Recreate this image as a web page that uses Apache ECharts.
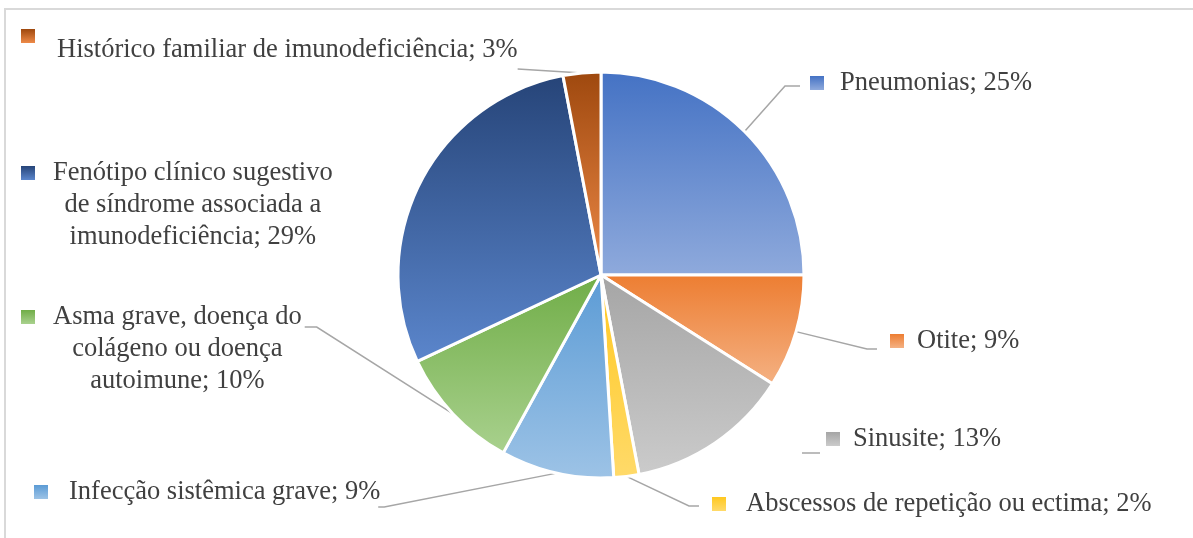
<!DOCTYPE html>
<html>
<head>
<meta charset="utf-8">
<script src="https://cdn.jsdelivr.net/npm/echarts@6/dist/echarts.min.js"></script>
<style>
  html, body { margin: 0; padding: 0; background: #ffffff; }
  #chart { width: 1193px; height: 538px; }
</style>
</head>
<body>
<div id="chart"></div>
<script>
// Categories in clockwise order starting at 12 o'clock
const categories = [
  'Pneumonias',
  'Otite',
  'Sinusite',
  'Abscessos de repetição ou ectima',
  'Infecção sistêmica grave',
  'Asma grave, doença do colágeno ou doença autoimune',
  'Fenótipo clínico sugestivo de síndrome associada a imunodeficiência',
  'Histórico familiar de imunodeficiência'
];

// Share of each category (%)
const percentages = [25, 9, 13, 2, 9, 10, 29, 3];

// Label text as wrapped on the chart
const labelRows = [
  ['Pneumonias'],
  ['Otite'],
  ['Sinusite'],
  ['Abscessos de repetição ou ectima'],
  ['Infecção sistêmica grave'],
  ['Asma grave, doença do', 'colágeno ou doença', 'autoimune'],
  ['Fenótipo clínico sugestivo', 'de síndrome associada a', 'imunodeficiência'],
  ['Histórico familiar de imunodeficiência']
];

// Slice gradient colours (top -> bottom)
const topColors    = ['#4472C4', '#ED7D31', '#A5A5A5', '#FFC820', '#5B9BD5', '#70AD47', '#264478', '#9E480E'];
const bottomColors = ['#8FAADC', '#F4B183', '#CBCBCB', '#FFDA6A', '#9DC3E6', '#A9D18E', '#5B86CC', '#EE8A48'];

// Label box placement: key square x, text start x, box top, leader line attachment
const labelSpots = [
  { keyX: 810, textX: 840, top: 68,  side: 'right', ax: 10, ay: 18, elbow: 15 },
  { keyX: 890, textX: 917, top: 326, side: 'right', ax: 13, ay: 23, elbow: 10 },
  { keyX: 826, textX: 853, top: 424, side: 'stub',  ax: 6,  ay: 29, elbow: 18 },
  { keyX: 712, textX: 746, top: 489, side: 'right', ax: 13, ay: 17, elbow: 10 },
  { keyX: 34,  textX: 69,  top: 477, side: 'left',  ax: -2, ay: 30, elbow: 6 },
  { keyX: 21,  textX: 53,  top: 301, side: 'left',  ax: 3,  ay: 26, elbow: 12 },
  { keyX: 21,  textX: 53,  top: 157, side: 'none' },
  { keyX: 21,  textX: 57,  top: 29,  side: 'left',  ax: 0,  ay: 40, elbow: 0 }
];

const KEY = 14;
const textBase = { fontFamily: 'Liberation Serif', fontSize: 26.5, color: '#404040' };

function grad(i) {
  return new echarts.graphic.LinearGradient(0, 0, 0, 1, [
    { offset: 0, color: topColors[i] },
    { offset: 1, color: bottomColors[i] }
  ]);
}

const rich = {
  t:  Object.assign({}, textBase, { lineHeight: 32, align: 'center' }),
  t1: Object.assign({}, textBase, { lineHeight: 30, align: 'center' }),
  tTall: Object.assign({}, textBase, { lineHeight: 42, align: 'center' })
};
categories.forEach(function (c, i) {
  const spot = labelSpots[i];
  rich['k' + i] = {
    width: KEY, height: KEY, backgroundColor: grad(i), align: 'center',
    verticalAlign: i === 7 ? 'top' : 'middle'
  };
  rich['g' + i] = { width: spot.textX - spot.keyX - KEY, height: 1, align: 'center' };
  rich['s' + i] = { width: spot.textX - spot.keyX, height: 1, align: 'center' };
});

function labelText(i) {
  const rows = labelRows[i].slice();
  rows[rows.length - 1] += '; ' + percentages[i] + '%';
  const tKey = rows.length > 1 ? 't' : (i === 7 ? 'tTall' : 't1');
  return rows.map(function (r, j) {
    const lead = j === 0 ? '{k' + i + '|}{g' + i + '|}' : '{s' + i + '|}';
    return lead + '{' + tKey + '|' + r + '}';
  }).join('\n');
}

const seriesData = categories.map(function (name, i) {
  const item = {
    name: name,
    value: percentages[i],
    itemStyle: { color: grad(i) }
  };
  if (labelSpots[i].side === 'none') item.labelLine = { show: false };
  return item;
});

const chart = echarts.init(document.getElementById('chart'), null, { renderer: 'canvas' });

chart.setOption({
  backgroundColor: '#ffffff',
  animation: false,
  graphic: [{
    type: 'rect',
    silent: true,
    shape: { x: 5, y: 9, width: 1300, height: 700 },
    style: { fill: 'none', stroke: '#D9D9D9', lineWidth: 2 }
  }],
  series: [{
    type: 'pie',
    center: [601, 275],
    radius: 203,
    startAngle: 90,
    clockwise: true,
    avoidLabelOverlap: false,
    itemStyle: { borderColor: '#ffffff', borderWidth: 3 },
    label: {
      show: true,
      position: 'outside',
      formatter: function (p) { return labelText(p.dataIndex); },
      rich: rich
    },
    labelLine: {
      show: true,
      length: 20,
      length2: 10,
      lineStyle: { color: '#A6A6A6', width: 1.5 }
    },
    labelLayout: function (p) {
      const i = p.dataIndex;
      const spot = labelSpots[i];
      const w = p.labelRect.width;
      const out = { x: spot.keyX, y: spot.top, align: 'left', verticalAlign: 'top' };
      const pts = p.labelLinePoints;
      if (!pts || spot.side === 'none') return out;
      const start = pts[0];
      let end, elbow;
      if (spot.side === 'right') {
        end = [spot.keyX - spot.ax, spot.top + spot.ay];
        elbow = [end[0] - spot.elbow, end[1]];
        out.labelLinePoints = [start, elbow, end];
      } else if (spot.side === 'left') {
        end = [spot.keyX + w + spot.ax, spot.top + spot.ay];
        elbow = [end[0] + spot.elbow, end[1]];
        out.labelLinePoints = [start, elbow, end];
      } else {
        end = [spot.keyX - spot.ax, spot.top + spot.ay];
        elbow = [end[0] - spot.elbow, end[1]];
        out.labelLinePoints = [elbow, elbow, end];
      }
      return out;
    },
    data: seriesData
  }]
});
</script>
</body>
</html>
